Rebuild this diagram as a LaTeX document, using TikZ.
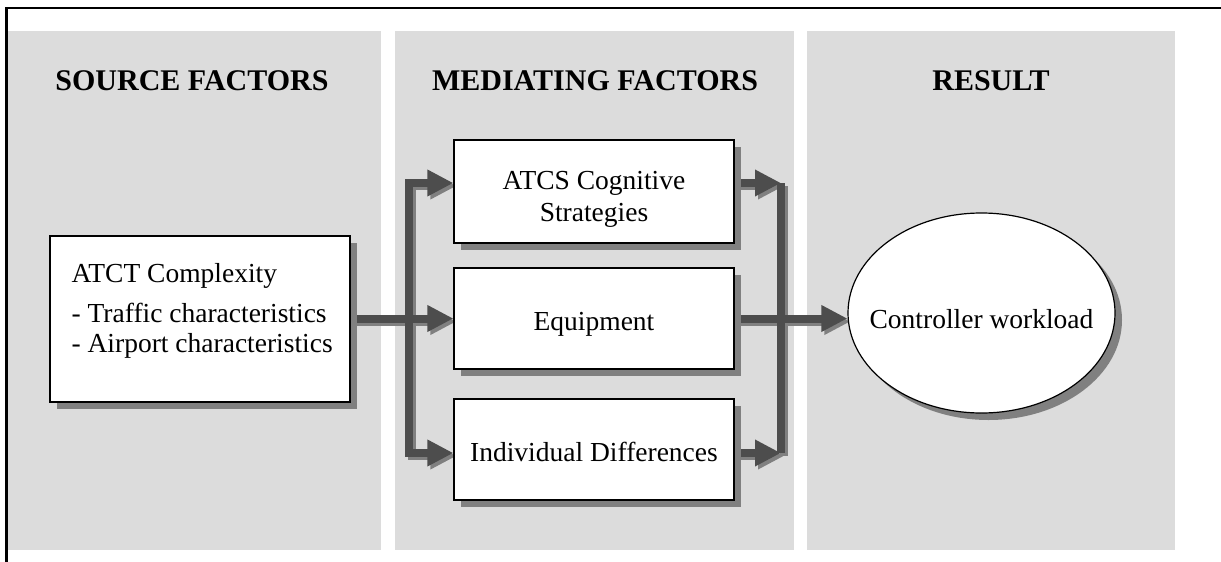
\documentclass[tikz,border=0pt]{standalone}
\usepackage{fontspec}
\setmainfont{Liberation Serif}
\usetikzlibrary{arrows.meta,shapes.geometric,shadows}
\definecolor{panelgray}{RGB}{220,220,220}
\definecolor{arrowdark}{RGB}{77,77,77}
\definecolor{shadegray}{RGB}{128,128,128}
\pgfdeclarelayer{bg}
\pgfdeclarelayer{conn}
\pgfsetlayers{bg,conn,main}
\begin{document}
\begin{tikzpicture}[x=1pt,y=-1pt,
  panel/.style={fill=panelgray,draw=none},
  title/.style={font=\fontsize{30}{36}\selectfont\bfseries,anchor=base,inner sep=0pt},
  box/.style={draw=black,line width=1.2pt,fill=white,inner sep=0pt,
    drop shadow={shadow xshift=7pt,shadow yshift=-7pt,fill=shadegray,opacity=1}},
  lbl/.style={inner sep=0pt,font=\fontsize{27.5}{32}\selectfont},
  conn/.style={draw=arrowdark,line width=8pt},
  connshade/.style={draw=shadegray,line width=8pt,transform canvas={shift={(3pt,-3pt)}}},
  head/.style={-{Triangle[length=26pt,width=25pt]}},
  twohead/.style={{Triangle[length=26pt,width=25pt]}-{Triangle[length=26pt,width=25pt]}},
]
\useasboundingbox (0,0) rectangle (1221,562);

% panels and frame
\begin{pgfonlayer}{bg}
  \fill[white] (0,0) rectangle (1221,562);
  \path[panel] (8,31) rectangle (381,550);
  \path[panel] (395,31) rectangle (794,550);
  \path[panel] (807,31) rectangle (1175,550);
  \draw[line width=2.2pt] (6.5,562) -- (6.5,8) -- (1221,8);
\end{pgfonlayer}

% titles
\node[title] (t1) at (192,90) {SOURCE FACTORS};
\node[title] (t2) at (595,90) {MEDIATING FACTORS};
\node[title] (t3) at (991,90) {RESULT};

% boxes
\node[box, minimum width=300pt, minimum height=166pt] (atct) at (200,319) {};
\node[box, minimum width=280pt, minimum height=103pt] (atcs) at (594,191.5) {};
\node[box, minimum width=280pt, minimum height=101pt] (eq) at (594,318.5) {};
\node[box, minimum width=280pt, minimum height=101pt] (ind) at (594,449.5) {};
\node[box, ellipse, minimum width=267pt, minimum height=200pt] (cw) at (981.5,313) {};

% texts
\node[lbl, anchor=north west, align=left, font=\fontsize{27.5}{30}\selectfont] (atctt)
  at ([xshift=22pt,yshift=-28pt]atct.north west)
  {ATCT Complexity\\[10pt]- Traffic characteristics\\- Airport characteristics};
\node[lbl, anchor=north, align=center] (atcst) at ([yshift=-32pt]atcs.north) {ATCS Cognitive\\Strategies};
\node[lbl, anchor=base] (eqt) at ([yshift=-11.5pt]eq.center) {Equipment};
\node[lbl, anchor=base] (indt) at ([yshift=-12pt]ind.center) {Individual Differences};
\node[lbl, anchor=base] (cwt) at ([yshift=-15pt]cw.center) {Controller workload};

% bus coordinates
\coordinate (lb1) at (409,183);
\coordinate (lb3) at (409,453);
\coordinate (rb1) at (781,183);
\coordinate (rb3) at (781,453);

% connectors
\begin{pgfonlayer}{conn}
  \draw[connshade, twohead] (atcs.west |- lb1) -- (lb1) -- (lb3) -- (ind.west |- lb3);
  \draw[connshade, head] (atct.east |- eq.west) -- (eq.west);
  \draw[connshade, head] (atcs.east |- rb1) -- (rb1);
  \draw[connshade, head] (ind.east |- rb3) -- (rb3);
  \draw[connshade] (rb1) -- (rb3);
  \draw[connshade, head] (eq.east) -- (cw.west |- eq.east);

  \draw[conn, twohead] (atcs.west |- lb1) -- (lb1) -- (lb3) -- (ind.west |- lb3);
  \draw[conn, head] (atct.east |- eq.west) -- (eq.west);
  \draw[conn, head] (atcs.east |- rb1) -- (rb1);
  \draw[conn, head] (ind.east |- rb3) -- (rb3);
  \draw[conn] (rb1) -- (rb3);
  \draw[conn, head] (eq.east) -- (cw.west |- eq.east);
\end{pgfonlayer}
\end{tikzpicture}
\end{document}
